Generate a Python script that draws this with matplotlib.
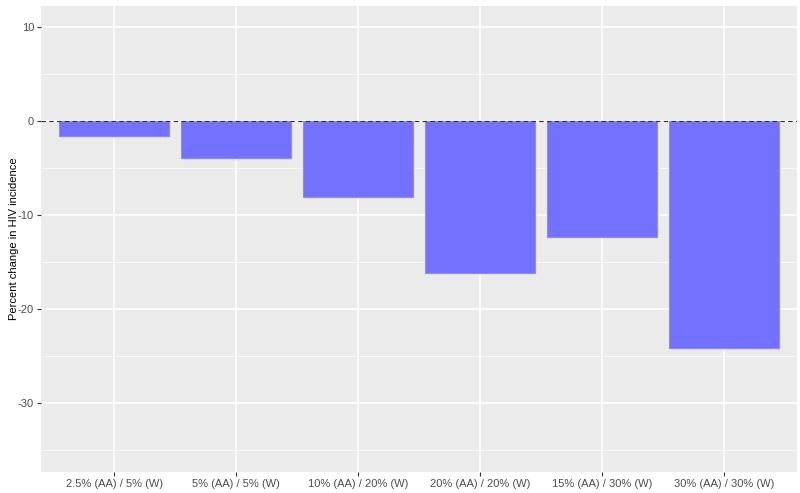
import matplotlib
matplotlib.use("Agg")
import matplotlib.pyplot as plt
import numpy as np

plt.rcParams['font.family'] = ['Liberation Sans', 'DejaVu Sans']
plt.rcParams['axes.unicode_minus'] = False

# scenarios (AA / W PrEP coverage) and percent change in HIV incidence
categories = ["2.5% (AA) / 5% (W)", "5% (AA) / 5% (W)", "10% (AA) / 20% (W)",
              "20% (AA) / 20% (W)", "15% (AA) / 30% (W)", "30% (AA) / 30% (W)"]
pct_change = [-1.6, -4.0, -8.1, -16.2, -12.4, -24.2]
y_ticks = [10, 0, -10, -20, -30]

fig = plt.figure(figsize=(8, 4.93), dpi=100)
ax = fig.add_axes([0.05125, 0.0432, 0.945, 0.9446])
ax.set_facecolor('#EBEBEB')

x = np.arange(1, len(categories) + 1)
ax.bar(x, pct_change, width=0.9, color='#7471FE', edgecolor='#8C89FF',
       linewidth=0.8, zorder=3)
ax.axhline(0, color='#333333', linestyle=(0, (4, 3)), linewidth=0.8, zorder=4)

ax.set_xlim(0.4, 6.6)
ax.set_ylim(-37.3, 12.2)
ax.set_xticks(x)
ax.set_xticklabels(categories)
ax.set_yticks(y_ticks)
ax.set_yticks([5, -5, -15, -25, -35], minor=True)

ax.grid(True, which='major', color='white', linewidth=1.1, zorder=0)
ax.grid(True, which='minor', axis='y', color='white', linewidth=0.5, zorder=0)
ax.set_axisbelow(True)
for s in ax.spines.values():
    s.set_visible(False)

ax.tick_params(axis='both', which='major', length=3, width=0.8, color='#333333',
               labelsize=8, labelcolor='#4D4D4D', pad=2)
ax.tick_params(axis='both', which='minor', length=0)
ax.set_ylabel("Percent change in HIV incidence", fontsize=8, color='black')
ax.yaxis.set_label_coords(-0.029, 0.5)

fig.savefig("out.png", dpi=100, facecolor='white')
